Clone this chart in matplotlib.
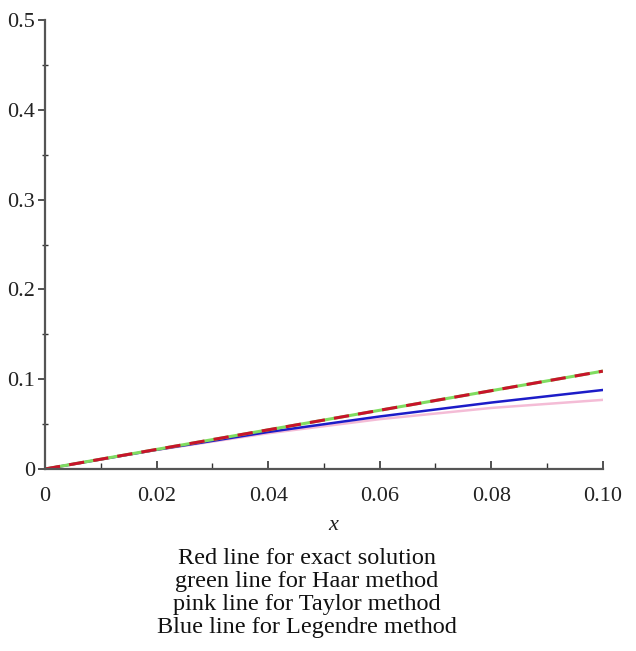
import numpy as np
import matplotlib
matplotlib.use("Agg")
import matplotlib.pyplot as plt
from matplotlib.ticker import MultipleLocator, FixedFormatter, FixedLocator

# values
x_vals = [0.0, 0.02, 0.04, 0.06, 0.08, 0.10]
exact = [0.0, 0.0218, 0.0436, 0.0654, 0.0872, 0.109]
haar = [0.0, 0.0218, 0.0436, 0.0654, 0.0872, 0.109]
taylor = [0.0, 0.0212, 0.0398, 0.0555, 0.0680, 0.077]
legendre = [0.0, 0.0214, 0.0412, 0.0585, 0.0740, 0.088]

x_ticks = [0.0, 0.02, 0.04, 0.06, 0.08, 0.10]
x_labels = ["0", "0.02", "0.04", "0.06", "0.08", "0.10"]
y_ticks = [0.0, 0.1, 0.2, 0.3, 0.4, 0.5]
y_labels = ["0", "0.1", "0.2", "0.3", "0.4", "0.5"]

caption = ["Red line for exact solution",
           "green line for Haar method",
           "pink line for Taylor method",
           "Blue line for Legendre method"]

plt.rcParams['font.family'] = ['Liberation Serif', 'DejaVu Serif']

fig = plt.figure(figsize=(6.36, 6.51), dpi=100)
ax = fig.add_axes([0.0708, 0.2796, 0.877, 0.6894])

ax.plot(x_vals, taylor, color='#f4bcd6', lw=1.8)
ax.plot(x_vals, legendre, color='#1c1cc8', lw=1.8)
ax.plot(x_vals, haar, color='#80dc60', lw=2.2)
ax.plot(x_vals, exact, color='#c8142a', lw=2.2, dashes=(5, 3))

ax.set_xlim(0, 0.1)
ax.set_ylim(0, 0.5)

for s in ['top', 'right']:
    ax.spines[s].set_visible(False)
for s in ['left', 'bottom']:
    ax.spines[s].set_color('#555555')
    ax.spines[s].set_linewidth(1.6)

ax.xaxis.set_major_locator(FixedLocator(x_ticks))
ax.xaxis.set_major_formatter(FixedFormatter(x_labels))
ax.xaxis.set_minor_locator(MultipleLocator(0.01))
ax.yaxis.set_major_locator(FixedLocator(y_ticks))
ax.yaxis.set_major_formatter(FixedFormatter(y_labels))
ax.yaxis.set_minor_locator(MultipleLocator(0.05))

ax.tick_params(axis='x', which='major', direction='in', length=6, width=1.2,
               color='#333333', labelsize=16, pad=13, labelcolor='#222222')
ax.tick_params(axis='x', which='minor', direction='in', length=4, width=1.0,
               color='#333333')
ax.tick_params(axis='y', which='major', direction='out', length=5, width=1.2,
               color='#333333', labelsize=16, pad=2, labelcolor='#222222')
ax.tick_params(axis='y', which='minor', direction='inout', length=4, width=1.0,
               color='#333333')

fig.text(0.524, 0.193, "x", style='italic', fontsize=16, ha='center',
         va='center', color='#222222')
fig.text(0.482, 0.089, "\n".join(caption), fontsize=17.5, ha='center',
         va='center', linespacing=1.13, color='#111111')

fig.savefig("out.png", dpi=100, facecolor='white')
